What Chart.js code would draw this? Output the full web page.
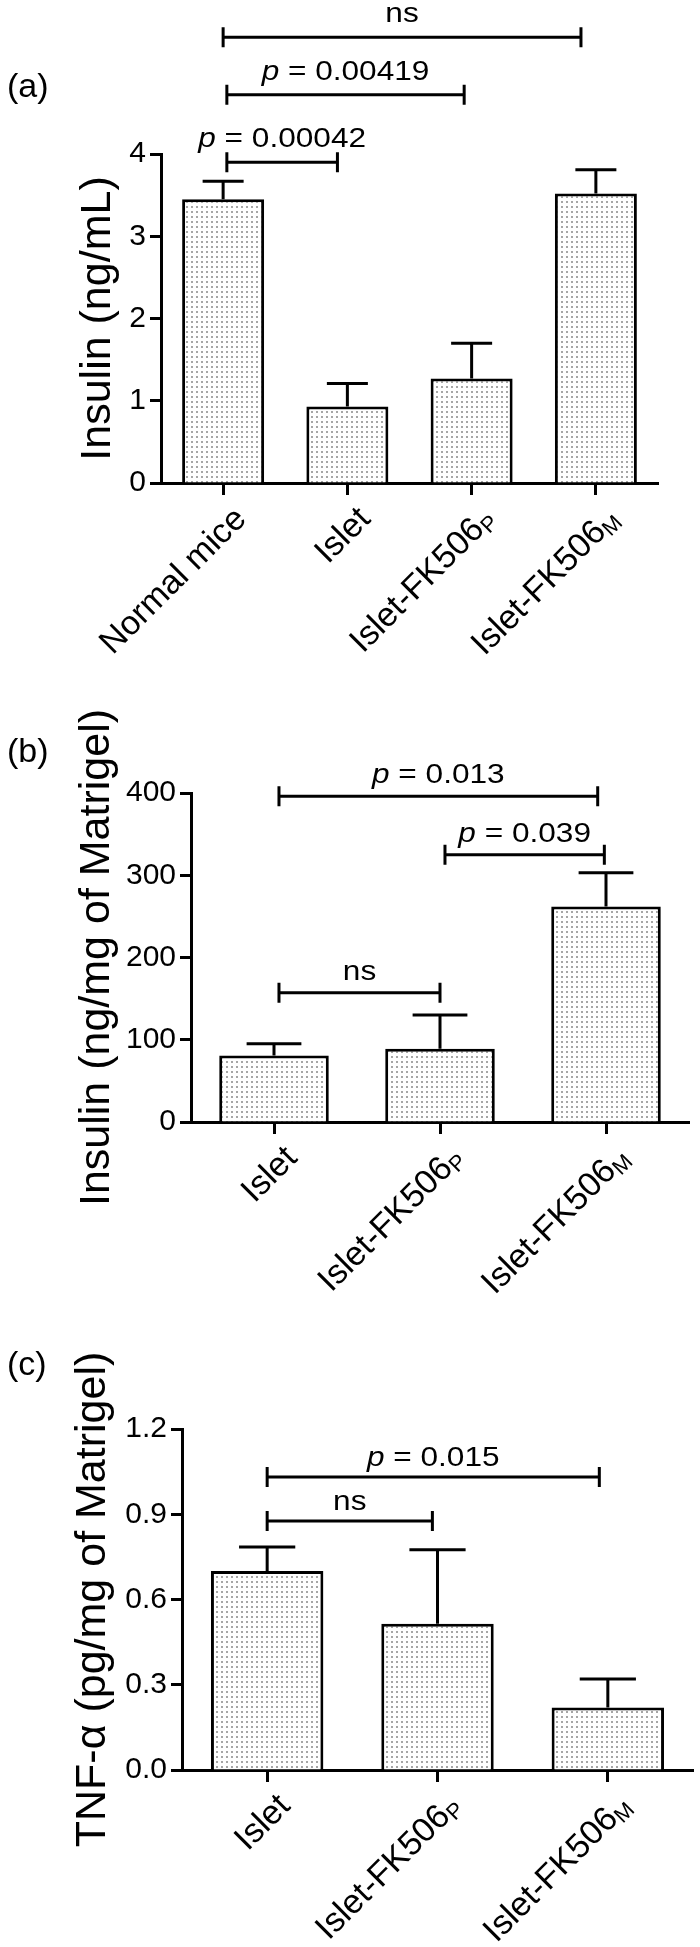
<!DOCTYPE html>
<html>
<head>
<meta charset="utf-8">
<script src="https://cdn.jsdelivr.net/npm/chart.js@4.4.0/dist/chart.umd.min.js"></script>
<style>
  body { margin: 0; background: #fff; }
  #wrap { position: relative; width: 700px; height: 1947px; }
  .panel { position: absolute; left: 0; width: 700px; }
</style>
</head>
<body>
<div id="wrap">
  <div class="panel" style="top:0;height:700px"><canvas id="chartA"></canvas></div>
  <div class="panel" style="top:700px;height:630px"><canvas id="chartB"></canvas></div>
  <div class="panel" style="top:1330px;height:617px"><canvas id="chartC"></canvas></div>
</div>
<script>

// (a) insulin in serum
const groupsA = ["Normal mice", "Islet", "Islet-FK506", "Islet-FK506"];
const subsA = ["", "", "P", "M"];
const insulinA = [3.45, 0.93, 1.27, 3.52];
const errA = [0.22, 0.28, 0.43, 0.29];
const ticksA = [0, 1, 2, 3, 4];
// [from, to, height, text]
const pairsA = [
    [0.03, 0.92, 3.9, "p = 0.00042"],
    [0.03, 1.94, 4.72, "p = 0.00419"],
    [0.0, 2.88, 5.42, "ns"]
];

// (b) insulin in matrigel
const groupsB = ["Islet", "Islet-FK506", "Islet-FK506"];
const subsB = ["", "P", "M"];
const insulinB = [81, 89, 262];
const errB = [14, 41, 41];
const ticksB = [0, 100, 200, 300, 400];
const pairsB = [
    [0.03, 1.0, 157, "ns"],
    [1.03, 1.99, 325, "p = 0.039"],
    [0.03, 1.95, 396, "p = 0.013"]
];

// (c) TNF-alpha in matrigel
const groupsC = ["Islet", "Islet-FK506", "Islet-FK506"];
const subsC = ["", "P", "M"];
const tnfC = [0.70, 0.515, 0.22];
const errC = [0.085, 0.26, 0.10];
const ticksC = [0, 0.3, 0.6, 0.9, 1.2];
const pairsC = [
    [0.0, 0.97, 0.876, "ns"],
    [0.0, 1.95, 1.031, "p = 0.015"]
];

const FONT = '"Liberation Sans", Arial, sans-serif';
Chart.defaults.font.family = FONT;
Chart.defaults.color = "#000";

// light dotted fill like the original
function dots() {
    const c = document.createElement("canvas");
    c.width = 5; c.height = 5;
    const g = c.getContext("2d");
    g.fillStyle = "#fff";
    g.fillRect(0, 0, 5, 5);
    g.fillStyle = "#a6a6a6";
    g.fillRect(1, 1, 2, 2);
    return g.createPattern(c, "repeat");
}

// p-values are set a bit wide in the original, so stretch them
function drawPText(c, txt, cx, y) {
    const sx = 1.17;
    c.save();
    c.translate(cx, y);
    c.scale(sx, 1);
    c.textBaseline = "alphabetic";
    c.textAlign = "left";
    if (txt.startsWith("p ")) {
        const rest = txt.slice(1);
        c.font = "italic 27px " + FONT;
        const wp = c.measureText("p").width;
        c.font = "27px " + FONT;
        const wr = c.measureText(rest).width;
        const x0 = -(wp + wr) / 2;
        c.font = "italic 27px " + FONT;
        c.fillText("p", x0, 0);
        c.font = "27px " + FONT;
        c.fillText(rest, x0 + wp, 0);
    } else {
        c.font = "27px " + FONT;
        const w = c.measureText(txt).width;
        c.fillText(txt, -w / 2, 0);
    }
    c.restore();
}

function extras(o) {
    return {
        id: "extras",
        afterDraw(chart) {
            const c = chart.ctx, xs = chart.scales.x, ys = chart.scales.y;
            const meta = chart.getDatasetMeta(0);
            c.save();
            c.strokeStyle = "#000";
            c.fillStyle = "#000";
            c.lineWidth = 3;

            // error bars, upper side only
            meta.data.forEach((bar, i) => {
                const top = ys.getPixelForValue(o.values[i] + o.errs[i]);
                const half = bar.width / 4;
                c.beginPath();
                c.moveTo(bar.x, bar.y);
                c.lineTo(bar.x, top);
                c.moveTo(bar.x - half, top);
                c.lineTo(bar.x + half, top);
                c.stroke();
            });

            // significance brackets
            o.pairs.forEach(p => {
                const x1 = xs.getPixelForValue(p[0]);
                const x2 = xs.getPixelForValue(p[1]);
                const y = ys.getPixelForValue(p[2]);
                c.beginPath();
                c.moveTo(x1, y); c.lineTo(x2, y);
                c.moveTo(x1, y - 10); c.lineTo(x1, y + 10);
                c.moveTo(x2, y - 10); c.lineTo(x2, y + 10);
                c.stroke();
                drawPText(c, p[3], (x1 + x2) / 2, y - o.gap);
            });

            // rotated category labels with subscripts
            o.groups.forEach((g, i) => {
                const x = xs.getPixelForTick(i);
                c.save();
                c.translate(x + 18, xs.top + 31);
                c.rotate(-Math.PI / 4);
                c.textBaseline = "middle";
                c.textAlign = "left";
                c.font = "34px " + FONT;
                const w1 = c.measureText(g).width;
                c.font = "22px " + FONT;
                const w2 = o.subs[i] ? c.measureText(o.subs[i]).width : 0;
                c.font = "34px " + FONT;
                c.fillText(g, -w1 - w2, 0);
                if (o.subs[i]) {
                    c.font = "22px " + FONT;
                    c.fillText(o.subs[i], -w2, 8);
                }
                c.restore();
            });

            // panel letter
            c.font = "34px " + FONT;
            c.textBaseline = "middle";
            c.textAlign = "left";
            c.fillText(o.letter, 7, o.letterY);
            c.restore();
        }
    };
}

function panel(id, o) {
    return new Chart(document.getElementById(id), {
        type: "bar",
        data: {
            labels: o.groups,
            datasets: [{
                data: o.values,
                backgroundColor: dots(),
                borderColor: "#000",
                borderWidth: 3,
                barPercentage: 0.66,
                categoryPercentage: 1
            }]
        },
        options: {
            responsive: true,
            maintainAspectRatio: false,
            animation: false,
            layout: { padding: { top: o.top, right: o.right, left: 0, bottom: 0 } },
            plugins: { legend: { display: false }, tooltip: { enabled: false } },
            scales: {
                x: {
                    grid: { offset: false, drawOnChartArea: false, tickLength: 12, tickWidth: 3, tickColor: "#000" },
                    border: { color: "#000", width: 3 },
                    ticks: { display: false },
                    afterFit: s => { s.height = o.xh; }
                },
                y: {
                    min: o.ticks[0],
                    max: o.ticks[o.ticks.length - 1],
                    afterBuildTicks: s => { s.ticks = o.ticks.map(v => ({ value: v })); },
                    grid: { drawOnChartArea: false, tickLength: 11, tickWidth: 3, tickColor: "#000" },
                    border: { color: "#000", width: 3 },
                    ticks: { color: "#000", padding: 4, font: { size: 30 }, callback: v => o.fmt(v) },
                    title: {
                        display: true, text: o.title, color: "#000",
                        font: { size: 43 }, padding: { top: o.tp, bottom: 0 }
                    },
                    afterFit: s => { s.width = o.yw; }
                }
            }
        },
        plugins: [extras(o)]
    });
}

panel("chartA", {
    groups: groupsA, subs: subsA, values: insulinA, errs: errA, ticks: ticksA, pairs: pairsA,
    fmt: v => String(v), title: "Insulin (ng/mL)", letter: "(a)", letterY: 88, gap: 15,
    top: 154, right: 42, xh: 217, yw: 161, tp: 72
});

panel("chartB", {
    groups: groupsB, subs: subsB, values: insulinB, errs: errB, ticks: ticksB, pairs: pairsB,
    fmt: v => String(v), title: "Insulin (ng/mg of Matrigel)", letter: "(b)", letterY: 53, gap: 13,
    top: 93, right: 11, xh: 208, yw: 191, tp: 71
});

panel("chartC", {
    groups: groupsC, subs: subsC, values: tnfC, errs: errC, ticks: ticksC, pairs: pairsC,
    fmt: v => v.toFixed(1), title: "TNF-α (pg/mg of Matrigel)", letter: "(c)", letterY: 36, gap: 11,
    top: 99, right: 7, xh: 177, yw: 182, tp: 67
});

</script>
</body>
</html>
